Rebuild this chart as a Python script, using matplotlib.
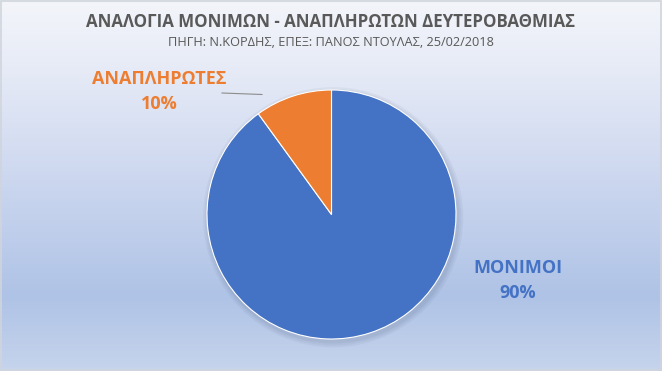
import matplotlib
matplotlib.use("Agg")
import matplotlib.pyplot as plt
import numpy as np
from matplotlib.colors import LinearSegmentedColormap
from matplotlib.patches import Rectangle, Circle

title = "ΑΝΑΛΟΓΙΑ ΜΟΝΙΜΩΝ - ΑΝΑΠΛΗΡΩΤΩΝ ΔΕΥΤΕΡΟΒΑΘΜΙΑΣ"
subtitle = "ΠΗΓΗ: Ν.ΚΟΡΔΗΣ, ΕΠΕΞ: ΠΑΝΟΣ ΝΤΟΥΛΑΣ, 25/02/2018"
categories = ["ΜΟΝΙΜΟΙ", "ΑΝΑΠΛΗΡΩΤΕΣ"]
values = [90, 10]
colors = ["#4472C4", "#ED7D31"]

W, H = 662, 371
fig = plt.figure(figsize=(W / 100, H / 100), dpi=100)
plt.rcParams['font.family'] = ['Open Sans', 'DejaVu Sans']

# background gradient
bg = fig.add_axes([0, 0, 1, 1])
bg.set_axis_off()
cmap = LinearSegmentedColormap.from_list(
    "bg", [(0.0, "#F3F5FA"), (0.15, "#E9EDF7"), (0.45, "#CFD9F0"),
           (0.80, "#AFC3E6"), (1.0, "#C6D4EC")])
grad = np.linspace(0, 1, 256).reshape(-1, 1)
bg.imshow(grad, aspect="auto", cmap=cmap, extent=[0, 1, 0, 1], origin="upper")
bg.set_xlim(0, 1)
bg.set_ylim(0, 1)
bg.add_patch(Rectangle((0.001, 0.002), 0.997, 0.995, fill=False,
                       edgecolor="#D0D5DD", linewidth=1.2))

# pie
cx, cy, r = 331.5, 371 - 214.5, 124.5
ax = fig.add_axes([(cx - r - 10) / W, (cy - r - 10) / H, (2 * r + 20) / W, (2 * r + 20) / H])
ax.set_axis_off()
scale = r / (r + 10)
for i, a in enumerate([0.05, 0.05, 0.06]):
    ax.add_patch(Circle((0.012, -0.02), scale * (1.0 + 0.015 * (3 - i)),
                        color="#2F3F60", alpha=a, zorder=0, linewidth=0))
ax.pie(values, colors=colors, startangle=90, counterclock=False, radius=scale,
       wedgeprops=dict(edgecolor="white", linewidth=0.8), center=(0, 0))
ax.set_xlim(-1, 1)
ax.set_ylim(-1, 1)
ax.set_aspect("auto")

# texts
tc = "#595959"
fig.text(331 / W, 1 - 22 / H, title, ha="center", va="center", fontsize=12.2,
         fontweight="bold", color=tc)
fig.text(331 / W, 1 - 43 / H, subtitle, ha="center", va="center", fontsize=9.2,
         color=tc)

fig.text(159 / W, 1 - 79 / H, categories[1], ha="center", va="center",
         fontsize=13, fontweight="bold", color=colors[1])
fig.text(159 / W, 1 - 104 / H, f"{values[1]}%", ha="center", va="center",
         fontsize=13, fontweight="bold", color=colors[1])
fig.text(518 / W, 1 - 268 / H, categories[0], ha="center", va="center",
         fontsize=13, fontweight="bold", color=colors[0])
fig.text(518 / W, 1 - 293 / H, f"{values[0]}%", ha="center", va="center",
         fontsize=13, fontweight="bold", color=colors[0])

bg.plot([222 / W, 262 / W], [1 - 93 / H, 1 - 94.5 / H], color="#8C8C8C", linewidth=0.8)

fig.savefig("out.png", dpi=100)
